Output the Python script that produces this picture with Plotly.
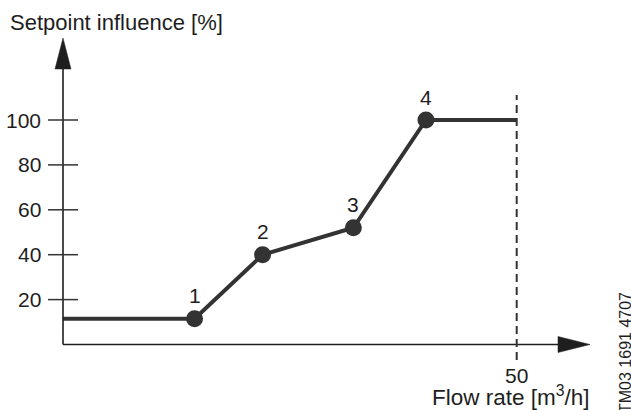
import plotly.graph_objects as go

# chart data
flow = [0, 14.5, 22, 32, 40, 50]
influence = [11.5, 11.5, 40, 52, 100, 100]
point_labels = ["1", "2", "3", "4"]
y_ticks = [20, 40, 60, 80, 100]
x_ticks = [50]
y_title = "Setpoint influence [%]"
x_title = "Flow rate [m<sup>3</sup>/h]"
doc_code = "TM03 1691 4707"

W, H = 631, 410
# pixels per unit, used to size decorations
px_x = 9.074
px_y = 2.245
x_range = [-63 / px_x, (W - 63) / px_x]
y_range = [-(H - 344.5) / px_y, 344.5 / px_y]

ink = "#1e1e1e"
line_col = "#333333"
font = "Liberation Sans, Arial, sans-serif"

fig = go.Figure()

# main curve
fig.add_trace(go.Scatter(
    x=flow, y=influence, mode="lines",
    line=dict(color=line_col, width=4),
    hoverinfo="skip", showlegend=False,
))
# numbered break points
fig.add_trace(go.Scatter(
    x=flow[1:5], y=influence[1:5], mode="markers",
    marker=dict(color=line_col, size=17),
    hoverinfo="skip", showlegend=False,
))

shapes = []
# axes
y_tip = (344.5 - 38) / px_y
y_base = (344.5 - 69) / px_y
x_tip = (590 - 63) / px_x
x_base = (558 - 63) / px_x
shapes.append(dict(type="line", x0=0, y0=0, x1=0, y1=y_base + 1,
                   line=dict(color=ink, width=1.6)))
shapes.append(dict(type="line", x0=0, y0=0, x1=x_base + 0.2, y1=0,
                   line=dict(color=ink, width=1.6)))
hw = 8 / px_x
shapes.append(dict(type="path",
                   path=f"M {-hw},{y_base} L 0,{y_tip} L {hw},{y_base} Z",
                   fillcolor=ink, line=dict(color=ink, width=0.5)))
hh = 8 / px_y
shapes.append(dict(type="path",
                   path=f"M {x_base},{-hh} L {x_tip},0 L {x_base},{hh} Z",
                   fillcolor=ink, line=dict(color=ink, width=0.5)))

# y tick marks crossing the axis
tk = 15 / px_x
for v in y_ticks:
    shapes.append(dict(type="line", x0=-tk, x1=tk, y0=v, y1=v,
                       line=dict(color=line_col, width=1.5)))

# dashed limit at the x tick
for v in x_ticks:
    shapes.append(dict(type="line", x0=v, x1=v,
                       y0=-(360 - 344.5) / px_y, y1=(344.5 - 95) / px_y,
                       line=dict(color=line_col, width=2, dash="8px,5px")))

annotations = []
for v in y_ticks:
    annotations.append(dict(x=-20 / px_x, y=v, text=str(v), showarrow=False,
                            xanchor="right", yanchor="middle",
                            font=dict(size=21, color=ink, family=font)))
for v in x_ticks:
    annotations.append(dict(x=v, y=-(375 - 344.5) / px_y, text=str(v), showarrow=False,
                            xanchor="center", yanchor="middle",
                            font=dict(size=21, color=ink, family=font)))
for lab, xv, yv in zip(point_labels, flow[1:5], influence[1:5]):
    annotations.append(dict(x=xv, y=yv, text=lab, showarrow=False,
                            xanchor="center", yanchor="middle", yshift=23,
                            font=dict(size=21, color=ink, family=font)))

annotations.append(dict(xref="paper", yref="paper", x=8 / W, y=1 - 22 / H,
                        text=y_title, showarrow=False, xanchor="left", yanchor="middle",
                        font=dict(size=22, color=ink, family=font)))
annotations.append(dict(xref="paper", yref="paper", x=592 / W, y=1 - 396 / H,
                        text=x_title, showarrow=False, xanchor="right", yanchor="middle",
                        font=dict(size=22.5, color=ink, family=font)))
annotations.append(dict(xref="paper", yref="paper", x=625 / W, y=1 - 353 / H,
                        text=doc_code, showarrow=False, textangle=-90,
                        xanchor="center", yanchor="middle",
                        font=dict(size=16, color=ink, family=font)))

fig.update_layout(
    width=W, height=H,
    margin=dict(l=0, r=0, t=0, b=0),
    paper_bgcolor="white", plot_bgcolor="white",
    xaxis=dict(range=x_range, visible=False, fixedrange=True),
    yaxis=dict(range=y_range, visible=False, fixedrange=True),
    shapes=shapes, annotations=annotations,
    showlegend=False,
)

# drop the browser's default page margin so the figure sits at 0,0
fig.write_html("out.html", config={"displayModeBar": False},
               post_script="document.body.style.margin='0';document.body.style.padding='0';")
